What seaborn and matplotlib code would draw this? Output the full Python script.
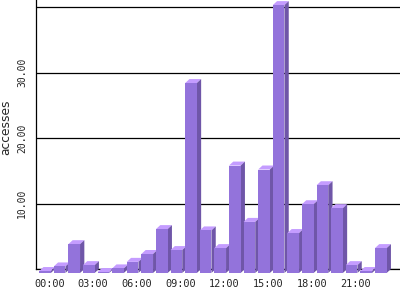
import matplotlib
matplotlib.use("Agg")
import matplotlib.pyplot as plt
import seaborn as sns
import pandas as pd
from matplotlib.patches import Polygon

hours = ["00:00", "01:00", "02:00", "03:00", "04:00", "05:00", "06:00", "07:00",
         "08:00", "09:00", "10:00", "11:00", "12:00", "13:00", "14:00", "15:00",
         "16:00", "17:00", "18:00", "19:00", "20:00", "21:00", "22:00", "23:00"]
accesses = [0.3, 1.0, 4.4, 1.2, 0.15, 0.7, 1.7, 2.9, 6.7, 3.5, 29.0, 6.5,
            3.8, 16.4, 7.8, 15.8, 40.9, 6.1, 10.5, 13.4, 9.9, 1.2, 0.3, 3.8]
ytick_vals = [0, 10, 20, 30, 40]
ytick_labels = ["", "10.00", "20.00", "30.00", ""]
xtick_labels = ["00:00", "03:00", "06:00", "09:00", "12:00", "15:00", "18:00", "21:00"]

front_c = "#9373db"
top_c = "#c49cff"
side_c = "#6f56a8"

sns.set_style("white")
plt.rcParams["font.family"] = ["DejaVu Sans Mono"]

fig = plt.figure(figsize=(4, 3), dpi=100)
ax = fig.add_axes([35.5 / 400, 31 / 300, 364.5 / 400, 269 / 300])

df = pd.DataFrame({"hour": hours, "accesses": accesses})
sns.barplot(data=df, x="hour", y="accesses", ax=ax, color=front_c,
            saturation=1, width=0.8, edgecolor="none", linewidth=0, zorder=3)

ax.set_xlim(-0.945, 24.02)
ax.set_ylim(0, 41.07)

# depth offsets in pixels -> data units
p0 = ax.transData.transform((0, 0))
p1 = ax.transData.transform((1, 1))
dxd = 4.3 / (p1[0] - p0[0])
dyd = 4.0 / (p1[1] - p0[1])

for patch in list(ax.patches):
    x0 = patch.get_x()
    w = patch.get_width()
    h = patch.get_height()
    x1 = x0 + w
    fx0, fx1 = x0 - dxd, x1 - dxd
    fy0, fy1 = -dyd, h - dyd
    patch.set_x(fx0)
    patch.set_y(fy0)
    patch.set_clip_on(False)
    top = Polygon([(fx0, fy1), (fx1, fy1), (x1, h), (x0, h)], closed=True,
                  facecolor=top_c, edgecolor="none", zorder=2, clip_on=False)
    side = Polygon([(fx1, fy0), (x1, 0), (x1, h), (fx1, fy1)], closed=True,
                   facecolor=side_c, edgecolor="none", zorder=2, clip_on=False)
    ax.add_patch(top)
    ax.add_patch(side)

ax.set_yticks(ytick_vals)
ax.set_yticklabels(ytick_labels, rotation=90, va="center", fontsize=7)
ax.set_xticks(list(range(0, 24, 3)))
ax.set_xticklabels(xtick_labels, fontsize=7.4)
ax.tick_params(axis="x", length=0, pad=7)
ax.tick_params(axis="y", length=0, pad=6)
ax.yaxis.grid(True, color="black", linewidth=0.9)
ax.xaxis.grid(False)
ax.set_axisbelow(True)
ax.set_xlabel("")
ax.set_ylabel("")
for s in ["top", "right"]:
    ax.spines[s].set_visible(False)
for s in ["left", "bottom"]:
    ax.spines[s].set_visible(True)
    ax.spines[s].set_color("black")
    ax.spines[s].set_linewidth(0.9)
    ax.spines[s].set_zorder(1)

fig.text(5.5 / 400, 1 - 127.5 / 300, "accesses", rotation=90, ha="center",
         va="center", fontsize=8.8, family="DejaVu Sans")

fig.savefig("out.png", dpi=100)
